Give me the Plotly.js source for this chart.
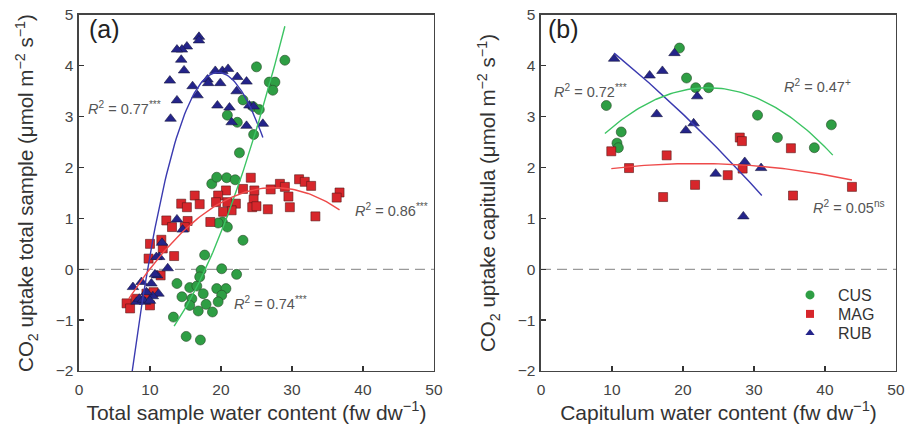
<!DOCTYPE html>
<html>
<head>
<meta charset="utf-8">
<script src="https://cdn.plot.ly/plotly-3.0.1.min.js"></script>
<style>html,body{margin:0;padding:0;background:#fff;}</style>
</head>
<body>
<div id="chart" style="width:909px;height:432px;"></div>
<script>
// ---------- Panel (a): total sample ----------
const aCusX = [29.0,25.0,26.8,27.6,27.3,23.1,24.5,25.4,20.9,22.3,24.6,22.6,18.7,19.4,20.8,22.0,20.2,19.6,20.9,23.1,17.7,17.2,20.1,22.2,13.8,15.6,16.6,17.0,19.4,20.7,14.5,15.9,17.5,20.1,19.6,17.9,15.6,16.8,18.8,13.3,15.1,17.1];
const aCusY = [4.11,3.98,3.68,3.68,3.52,3.33,3.20,3.14,3.03,2.89,2.65,2.29,1.68,1.81,1.80,1.76,0.93,0.91,0.83,0.57,0.28,-0.02,0.01,-0.10,-0.28,-0.36,-0.33,-0.15,-0.38,-0.38,-0.54,-0.58,-0.48,-0.51,-0.64,-0.69,-0.71,-0.82,-0.84,-0.94,-1.32,-1.39];

const aMagX = [24.2,31.0,31.8,32.7,28.3,29.0,27.0,29.5,36.7,36.3,33.3,29.7,26.6,24.7,24.6,24.4,25.0,23.1,22.1,21.5,20.7,19.6,19.3,20.3,20.9,16.3,17.0,14.4,15.2,15.3,14.9,12.3,13.1,18.5,11.6,11.8,10.0,9.8,13.4,11.5,9.5,10.5,8.0,6.7,7.2,10.0];
const aMagY = [1.80,1.77,1.72,1.64,1.68,1.62,1.57,1.43,1.51,1.41,1.04,1.22,1.18,1.55,1.37,1.22,1.24,1.58,1.29,1.16,1.55,1.45,1.32,1.13,1.32,1.45,1.28,1.29,1.22,0.95,0.83,0.96,0.83,0.93,0.58,0.41,0.50,0.21,0.26,-0.12,-0.48,-0.45,-0.58,-0.67,-0.77,-0.71];

const aRubX = [16.9,16.9,15.2,14.5,13.8,14.4,14.8,12.8,13.8,12.9,16.0,16.7,18.1,18.2,19.2,20.2,21.0,19.9,19.5,21.2,22.3,23.6,22.2,21.5,24.0,24.6,23.6,25.9,13.8,14.6,11.7,11.3,12.5,10.9,11.0,11.2,10.4,8.8,10.2,7.6,9.3,8.1,9.5,10.7,8.5,9.0,10.0];
const aRubY = [4.57,4.50,4.38,4.32,4.32,4.12,3.91,3.71,3.32,2.96,3.60,3.42,3.73,3.66,3.90,3.90,3.94,3.66,3.22,3.18,3.78,3.69,3.50,2.89,3.22,3.20,2.82,2.86,0.98,0.78,0.52,0.24,0.02,0.24,-0.12,-0.48,-0.53,-0.25,-0.28,-0.35,-0.64,-0.64,-0.45,-0.10,-0.58,-0.60,-0.62];

// ---------- Panel (b): capitula ----------
const bCusX = [19.5,9.2,20.5,21.8,23.6,11.3,10.7,10.9,30.5,40.9,33.3,38.5];
const bCusY = [4.35,3.22,3.76,3.57,3.57,2.70,2.48,2.39,3.03,2.84,2.59,2.39];
const bMagX = [9.9,17.7,12.4,21.7,17.2,28.0,28.3,35.2,28.4,26.3,35.5,43.8];
const bMagY = [2.32,2.24,1.99,1.66,1.42,2.59,2.52,2.38,1.98,1.85,1.45,1.62];
const bRubX = [10.3,15.3,17.1,18.8,22.0,16.3,20.4,21.5,24.6,28.7,31.0,28.5];
const bRubY = [4.14,3.81,3.90,4.25,3.40,3.05,2.73,2.87,1.88,2.11,1.99,1.04];

// ---------- Regression fits: polynomial coefficients [c0,c1,c2,c3] and x range ----------
const fitACus = {c:[-1.917,-0.0878,0.01099,0], x:[13.4,29.0]};
const fitAMag = {c:[-2.3288,0.2858,-0.00519,0], x:[7.0,36.7]};
const fitARub = {c:[-12.7924,1.86791,-0.06045,0.00043478], x:[7.5,25.9]};
const fitBCus = {c:[1.2064,0.20116,-0.00428,0], x:[9.0,41.1]};
const fitBMag = {c:[1.7485,0.03014,-0.000685,0], x:[9.9,43.8]};
const fitBRub = {c:[5.322,-0.0940,-0.00098,0], x:[10.3,31.1]};

const tickVals = [0,10,20,30,40,50];
const yTickVals = [-2,-1,0,1,2,3,4,5];
const seriesNames = ['CUS','MAG','RUB'];

const COL = {CUS:'#2e9e44', MAG:'#d7262b', RUB:'#24248a'};
const LCOL = {CUS:'#3cc463', MAG:'#ee4a4a', RUB:'#3a3ab0'};

function fitCurve(f){
  const xs=[], ys=[];
  const n=80;
  for(let i=0;i<=n;i++){
    const x=f.x[0]+(f.x[1]-f.x[0])*i/n;
    xs.push(x);
    ys.push(f.c[0]+f.c[1]*x+f.c[2]*x*x+f.c[3]*x*x*x);
  }
  return {xs,ys};
}

const mk = {
  CUS:{symbol:'circle', size:10, color:COL.CUS, line:{color:'#2a4a2a', width:0.6}},
  MAG:{symbol:'square', size:9, color:COL.MAG, line:{color:'#5a1a1a', width:0.6}},
  RUB:{symbol:'triangle-up', size:10, color:COL.RUB, line:{color:'#1a1a40', width:0.6}}
};
const legMk = {
  CUS:{symbol:'circle', size:9, color:COL.CUS, line:{width:0}},
  MAG:{symbol:'square', size:8, color:COL.MAG, line:{width:0}},
  RUB:{symbol:'triangle-up', size:8, color:COL.RUB, line:{width:0}}
};
const legendIds = {CUS:'legend', MAG:'legend2', RUB:'legend3'};

function pts(x,y,name,xa,ya){
  return {type:'scatter', mode:'markers', x:x, y:y, name:name, xaxis:xa, yaxis:ya,
    marker:mk[name], showlegend:false, cliponaxis:false};
}
function legendEntry(name){
  return {type:'scatter', mode:'markers', x:[null], y:[null], name:name, xaxis:'x2', yaxis:'y2',
    marker:legMk[name], showlegend:true, legend:legendIds[name]};
}
function line(f,name,xa,ya){
  const c=fitCurve(f);
  return {type:'scatter', mode:'lines', x:c.xs, y:c.ys, xaxis:xa, yaxis:ya,
    line:{color:LCOL[name], width:1.4}, showlegend:false, hoverinfo:'skip'};
}
function zero(xa,ya){
  return {type:'scatter', mode:'lines', x:[0,50], y:[0,0], xaxis:xa, yaxis:ya,
    line:{color:'#9a9a9a', width:1.2, dash:'10px,6px'}, showlegend:false, hoverinfo:'skip'};
}

const data = [
  zero('x','y'), zero('x2','y2'),
  pts(aCusX,aCusY,'CUS','x','y'),
  pts(aMagX,aMagY,'MAG','x','y'),
  pts(aRubX,aRubY,'RUB','x','y'),
  line(fitARub,'RUB','x','y'), line(fitACus,'CUS','x','y'), line(fitAMag,'MAG','x','y'),
  pts(bCusX,bCusY,'CUS','x2','y2'),
  pts(bMagX,bMagY,'MAG','x2','y2'),
  pts(bRubX,bRubY,'RUB','x2','y2'),
  line(fitBRub,'RUB','x2','y2'), line(fitBCus,'CUS','x2','y2'), line(fitBMag,'MAG','x2','y2'),
  legendEntry('CUS'), legendEntry('MAG'), legendEntry('RUB')
];

const FONT = 'Arial, "Liberation Sans", Helvetica, sans-serif';
function xax(domain, title){
  return {domain:domain, range:[0,50], tickvals:tickVals, ticks:'inside', ticklen:5, tickwidth:1.3,
    tickcolor:'#333', showline:true, linecolor:'#444', linewidth:1.5, mirror:true,
    showgrid:false, zeroline:false, tickfont:{size:15.5, color:'#444', family:FONT},
    ticklabelstandoff:4,
    title:{text:title, font:{size:21, color:'#333', family:FONT}, standoff:6}, fixedrange:true};
}
function yax(domain, title, anchor){
  return {domain:domain, range:[-2,5], tickvals:yTickVals, ticks:'inside', ticklen:5, tickwidth:1.3,
    tickcolor:'#333', showline:true, linecolor:'#444', linewidth:1.5, mirror:true,
    showgrid:false, zeroline:false, tickfont:{size:15.5, color:'#444', family:FONT},
    ticklabelstandoff:1,
    title:{text:title, font:{size:20.5, color:'#333', family:FONT}, standoff:16}, anchor:anchor, fixedrange:true};
}

const annFont = {size:14.5, color:'#555', family:FONT};
const annotations = [
  {xref:'x', yref:'y', x:1.1, y:4.72, text:'(a)', showarrow:false, xanchor:'left', font:{size:25, color:'#222', family:FONT}},
  {xref:'x2', yref:'y2', x:0.7, y:4.72, text:'(b)', showarrow:false, xanchor:'left', font:{size:25, color:'#222', family:FONT}},
  {xref:'x', yref:'y', x:1.0, y:3.18, text:'<i>R</i><sup>2</sup> = 0.77<sup>***</sup>', showarrow:false, xanchor:'left', font:annFont},
  {xref:'x', yref:'y', x:38.6, y:1.16, text:'<i>R</i><sup>2</sup> = 0.86<sup>***</sup>', showarrow:false, xanchor:'left', font:annFont},
  {xref:'x', yref:'y', x:21.6, y:-0.67, text:'<i>R</i><sup>2</sup> = 0.74<sup>***</sup>', showarrow:false, xanchor:'left', font:annFont},
  {xref:'x2', yref:'y2', x:1.6, y:3.50, text:'<i>R</i><sup>2</sup> = 0.72<sup>***</sup>', showarrow:false, xanchor:'left', font:annFont},
  {xref:'x2', yref:'y2', x:33.9, y:3.60, text:'<i>R</i><sup>2</sup> = 0.47<sup>+</sup>', showarrow:false, xanchor:'left', font:annFont},
  {xref:'x2', yref:'y2', x:38.1, y:1.22, text:'<i>R</i><sup>2</sup> = 0.05<sup>ns</sup>', showarrow:false, xanchor:'left', font:annFont}
];

function leg(y){
  return {x:0.8684, y:y, xanchor:'left', yanchor:'top', bgcolor:'rgba(0,0,0,0)', itemwidth:46,
    font:{size:16, color:'#333', family:FONT}};
}

const layout = {
  width:909, height:432,
  margin:{l:10, r:10, t:10, b:10},
  paper_bgcolor:'#fff', plot_bgcolor:'#fff',
  font:{family:FONT},
  showlegend:true,
  legend: leg(0.3495), legend2: leg(0.3034), legend3: leg(0.2573),
  xaxis: Object.assign(xax([0.0776,0.4769], 'Total sample water content (fw dw<sup>−1</sup>)'), {anchor:'y'}),
  yaxis: yax([0.1238,0.9879], 'CO<sub>2</sub> uptake total sample (μmol m<sup>−2</sup> s<sup>−1</sup>)', 'x'),
  xaxis2: Object.assign(xax([0.5973,0.9966], 'Capitulum water content (fw dw<sup>−1</sup>)'), {anchor:'y2'}),
  yaxis2: yax([0.1238,0.9879], 'CO<sub>2</sub> uptake capitula (μmol m<sup>−2</sup> s<sup>−1</sup>)', 'x2'),
  annotations: annotations
};

Plotly.newPlot('chart', data, layout, {staticPlot:true, displayModeBar:false});
</script>
</body>
</html>
